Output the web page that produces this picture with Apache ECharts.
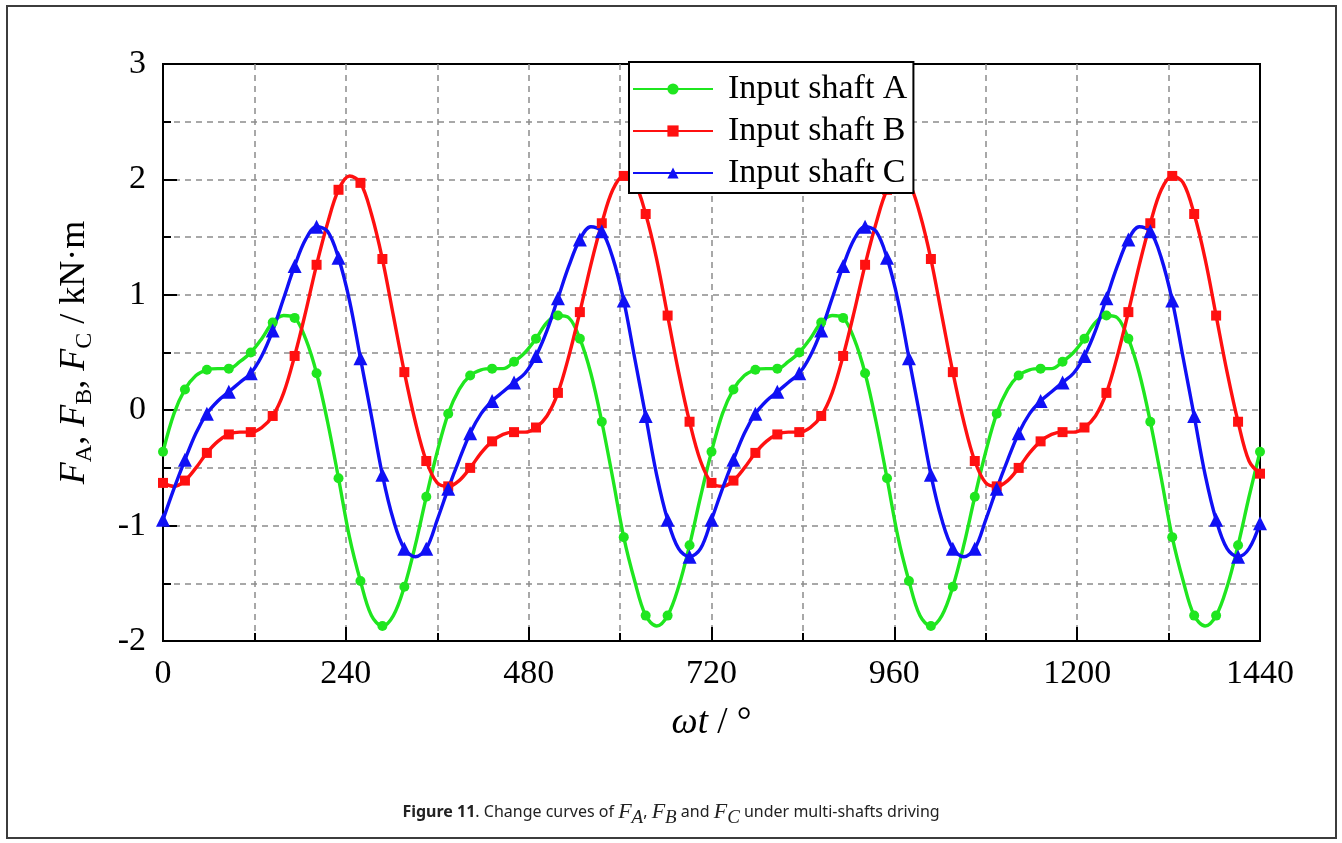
<!DOCTYPE html>
<html><head><meta charset="utf-8">
<script src="https://cdn.jsdelivr.net/npm/echarts@6/dist/echarts.min.js"></script>
<style>html,body{margin:0;padding:0;background:#fff}#c{width:1342px;height:843px}</style>
</head><body><div id="c"></div>
<script>
// x positions (ωt, degrees); markers are drawn on every second point (every 28.8°)
const angles = [
  0, 14.4, 28.8, 43.2, 57.6, 72, 86.4, 100.8, 115.2, 129.6, 144, 158.4, 172.8, 187.2, 201.6, 216, 230.4, 244.8, 259.2, 273.6, 288, 302.4, 316.8, 331.2, 345.6,
  360, 374.4, 388.8, 403.2, 417.6, 432, 446.4, 460.8, 475.2, 489.6, 504, 518.4, 532.8, 547.2, 561.6, 576, 590.4, 604.8, 619.2, 633.6, 648, 662.4, 676.8, 691.2, 705.6,
  720, 734.4, 748.8, 763.2, 777.6, 792, 806.4, 820.8, 835.2, 849.6, 864, 878.4, 892.8, 907.2, 921.6, 936, 950.4, 964.8, 979.2, 993.6, 1008, 1022.4, 1036.8, 1051.2, 1065.6,
  1080, 1094.4, 1108.8, 1123.2, 1137.6, 1152, 1166.4, 1180.8, 1195.2, 1209.6, 1224, 1238.4, 1252.8, 1267.2, 1281.6, 1296, 1310.4, 1324.8, 1339.2, 1353.6, 1368, 1382.4, 1396.8, 1411.2, 1425.6,
  1440
];
const shaftA = [
  -0.36, -0.03, 0.18, 0.30, 0.35, 0.36, 0.36, 0.42, 0.50, 0.62, 0.76, 0.82, 0.80, 0.62, 0.32, -0.10, -0.59, -1.10, -1.48, -1.78, -1.87, -1.78, -1.53, -1.17, -0.75,
  -0.36, -0.03, 0.18, 0.30, 0.35, 0.36, 0.36, 0.42, 0.50, 0.62, 0.76, 0.82, 0.80, 0.62, 0.32, -0.10, -0.59, -1.10, -1.48, -1.78, -1.87, -1.78, -1.53, -1.17, -0.75,
  -0.36, -0.03, 0.18, 0.30, 0.35, 0.36, 0.36, 0.42, 0.50, 0.62, 0.76, 0.82, 0.80, 0.62, 0.32, -0.10, -0.59, -1.10, -1.48, -1.78, -1.87, -1.78, -1.53, -1.17, -0.75,
  -0.36, -0.03, 0.18, 0.30, 0.35, 0.36, 0.36, 0.42, 0.50, 0.62, 0.76, 0.82, 0.80, 0.62, 0.32, -0.10, -0.59, -1.10, -1.48, -1.78, -1.87, -1.78, -1.53, -1.17, -0.75,
  -0.36
];
const shaftB = [
  -0.63, -0.66, -0.61, -0.50, -0.37, -0.27, -0.21, -0.19, -0.19, -0.15, -0.05, 0.15, 0.47, 0.85, 1.26, 1.62, 1.91, 2.03, 1.97, 1.70, 1.31, 0.82, 0.33, -0.10, -0.44,
  -0.63, -0.66, -0.61, -0.50, -0.37, -0.27, -0.21, -0.19, -0.19, -0.15, -0.05, 0.15, 0.47, 0.85, 1.26, 1.62, 1.91, 2.03, 1.97, 1.70, 1.31, 0.82, 0.33, -0.10, -0.44,
  -0.63, -0.66, -0.61, -0.50, -0.37, -0.27, -0.21, -0.19, -0.19, -0.15, -0.05, 0.15, 0.47, 0.85, 1.26, 1.62, 1.91, 2.03, 1.97, 1.70, 1.31, 0.82, 0.33, -0.10, -0.44,
  -0.63, -0.66, -0.61, -0.50, -0.37, -0.27, -0.21, -0.19, -0.19, -0.15, -0.05, 0.15, 0.47, 0.85, 1.26, 1.62, 1.91, 2.03, 1.97, 1.70, 1.31, 0.82, 0.33, -0.10, -0.44,
  -0.55
];
const shaftC = [
  -0.95, -0.68, -0.43, -0.20, -0.03, 0.08, 0.16, 0.24, 0.32, 0.47, 0.69, 0.97, 1.25, 1.48, 1.59, 1.55, 1.32, 0.95, 0.45, -0.05, -0.56, -0.95, -1.20, -1.27, -1.20,
  -0.95, -0.68, -0.43, -0.20, -0.03, 0.08, 0.16, 0.24, 0.32, 0.47, 0.69, 0.97, 1.25, 1.48, 1.59, 1.55, 1.32, 0.95, 0.45, -0.05, -0.56, -0.95, -1.20, -1.27, -1.20,
  -0.95, -0.68, -0.43, -0.20, -0.03, 0.08, 0.16, 0.24, 0.32, 0.47, 0.69, 0.97, 1.25, 1.48, 1.59, 1.55, 1.32, 0.95, 0.45, -0.05, -0.56, -0.95, -1.20, -1.27, -1.20,
  -0.95, -0.68, -0.43, -0.20, -0.03, 0.08, 0.16, 0.24, 0.32, 0.47, 0.69, 0.97, 1.25, 1.48, 1.59, 1.55, 1.32, 0.95, 0.45, -0.05, -0.56, -0.95, -1.20, -1.27, -1.20,
  -0.98
];
const seriesNames = ['Input shaft A', 'Input shaft B', 'Input shaft C'];

const chart = echarts.init(document.getElementById('c'), null, {renderer: 'canvas'});
const pairs = vals => angles.map((a, i) => [a, vals[i]]);
const markEvery2 = size => (v, p) => (p.dataIndex % 2 === 0 ? size : 0);
const serif = 'Liberation Serif';
const grid = {color: '#8c8c8c', type: [6, 5], width: 1.5};

function mkSeries(name, vals, color, symbol, size) {
  return {
    name, type: 'line', data: pairs(vals), smooth: 0.35,
    symbol, symbolSize: markEvery2(size), showAllSymbol: true,
    lineStyle: {width: 3.4, color}, itemStyle: {color},
    emphasis: {disabled: true}
  };
}

chart.setOption({
  animation: false,
  backgroundColor: '#fff',
  graphic: [{type: 'rect', silent: true, shape: {x: 7, y: 6, width: 1329, height: 832},
    style: {fill: 'none', stroke: '#3c3c3c', lineWidth: 2}}],
  title: {
    left: 'center', top: 792,
    text: '{b|Figure 11}{n|. Change curves of }{m|F}{s|A}{n|, }{m|F}{s|B}{n| and }{m|F}{s|C}{n| under multi-shafts driving}',
    textStyle: {fontWeight: 'normal', rich: {
      b: {fontFamily: 'Noto Sans', fontWeight: 'bold', fontSize: 16, color: '#222', lineHeight: 30},
      n: {fontFamily: 'Noto Sans', fontWeight: 'normal', fontSize: 16, color: '#222', lineHeight: 30},
      m: {fontFamily: serif, fontWeight: 'normal', fontStyle: 'italic', fontSize: 22, color: '#222', lineHeight: 30},
      s: {fontFamily: serif, fontWeight: 'normal', fontStyle: 'italic', fontSize: 19, color: '#222', lineHeight: 18, verticalAlign: 'bottom'}
    }}
  },
  legend: {
    left: 629, top: 62, orient: 'vertical',
    itemWidth: 80, itemHeight: 14, itemGap: 6,
    padding: [9, 6, 2, 3],
    borderColor: '#000', borderWidth: 2, backgroundColor: '#fff',
    textStyle: {fontFamily: serif, fontSize: 34, color: '#000', lineHeight: 36, padding: [0, 0, 0, 10]},
    data: seriesNames
  },
  grid: {left: 163, right: 82, top: 64, bottom: 202, show: true, borderColor: '#000', borderWidth: 2},
  xAxis: {
    type: 'value', min: 0, max: 1440, interval: 240,
    axisLine: {show: true, onZero: false, lineStyle: {color: '#000', width: 2}},
    axisTick: {show: true, inside: true, length: 14, lineStyle: {color: '#000', width: 2}},
    minorTick: {show: true, splitNumber: 2, length: 8, lineStyle: {color: '#000', width: 2}},
    axisLabel: {color: '#000', fontSize: 34, fontFamily: serif, margin: 16, formatter: v => String(v)},
    splitLine: {show: true, showMinLine: false, showMaxLine: false, lineStyle: grid},
    minorSplitLine: {show: true, lineStyle: grid},
    name: '{i|ωt}{n| / °}', nameLocation: 'middle', nameGap: 64,
    nameTextStyle: {rich: {
      i: {fontFamily: serif, fontStyle: 'italic', fontSize: 37, color: '#000'},
      n: {fontFamily: serif, fontSize: 37, color: '#000'}
    }}
  },
  yAxis: {
    type: 'value', min: -2, max: 3, interval: 1,
    axisLine: {show: true, onZero: false, lineStyle: {color: '#000', width: 2}},
    axisTick: {show: true, inside: true, length: 14, lineStyle: {color: '#000', width: 2}},
    minorTick: {show: true, splitNumber: 2, length: 8, lineStyle: {color: '#000', width: 2}},
    axisLabel: {color: '#000', fontSize: 34, fontFamily: serif, margin: 17, formatter: v => String(v)},
    splitLine: {show: true, showMinLine: false, showMaxLine: false, lineStyle: grid},
    minorSplitLine: {show: true, lineStyle: grid},
    name: '{i|F}{s|A}{n|, }{i|F}{s|B}{n|, }{i|F}{s|C}{n| / kN·m}',
    nameLocation: 'middle', nameGap: 66,
    nameTextStyle: {rich: {
      i: {fontFamily: serif, fontStyle: 'italic', fontSize: 36, color: '#000', lineHeight: 44},
      n: {fontFamily: serif, fontSize: 36, color: '#000', lineHeight: 44},
      s: {fontFamily: serif, fontSize: 24, color: '#000', lineHeight: 24, verticalAlign: 'bottom'}
    }}
  },
  series: [
    mkSeries(seriesNames[0], shaftA, '#1fe61f', 'circle', 10),
    mkSeries(seriesNames[1], shaftB, '#ff1010', 'rect', 10),
    mkSeries(seriesNames[2], shaftC, '#1010f5', 'triangle', 14)
  ]
});
</script>
</body></html>
